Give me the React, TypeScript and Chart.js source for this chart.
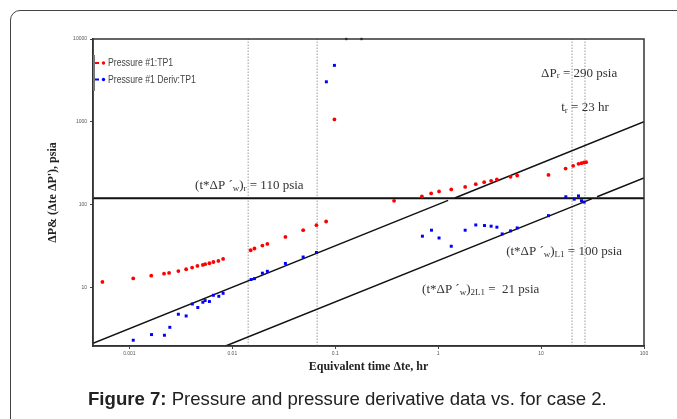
import React, { useEffect, useRef } from "react";
import { Chart, registerables } from "chart.js";

Chart.register(...registerables);

// ---- data ----
const pressureT = [0.000547, 0.00109, 0.00163, 0.00217, 0.00243, 0.00299, 0.00356, 0.00407, 0.00458, 0.00517, 0.00544, 0.00599, 0.00655, 0.00732, 0.00814, 0.01507, 0.0164, 0.0196, 0.0219, 0.0328, 0.0488, 0.0657, 0.0816, 0.0982, 0.373, 0.695, 0.855, 1.02, 1.34, 1.83, 2.32, 2.8, 3.27, 3.72, 5.05, 5.86, 11.8, 17.3, 20.5, 23.1, 24.7, 26.2, 27.4];
const pressureDP = [11.6, 12.8, 13.8, 14.6, 14.9, 15.7, 16.5, 17.3, 18.1, 18.6, 19.0, 19.5, 20.2, 20.8, 22.0, 28.0, 29.4, 31.9, 33.4, 40.6, 48.9, 56.2, 62.3, 1067, 110.7, 125, 136, 144, 152, 163, 176, 186, 193, 201, 216, 224, 228, 272, 293, 310, 316, 322, 325];

const derivT = [0.00109, 0.00164, 0.00219, 0.00247, 0.00299, 0.00356, 0.00409, 0.00462, 0.00517, 0.00544, 0.00599, 0.00655, 0.00739, 0.00814, 0.01524, 0.0164, 0.0196, 0.0219, 0.0328, 0.0488, 0.0657, 0.082, 0.0982, 0.703, 0.861, 1.02, 1.34, 1.83, 2.32, 2.82, 3.27, 3.72, 4.19, 5.05, 5.86, 11.8, 17.4, 21.0, 23.1, 24.7, 26.2];
const derivDP = [2.29, 2.68, 2.63, 3.28, 4.72, 4.5, 6.28, 5.69, 6.59, 6.91, 6.72, 8.0, 7.78, 8.45, 12.4, 12.7, 14.8, 15.6, 19.4, 23.2, 26.3, 3040, 4800, 41.4, 48.9, 39.4, 31.3, 48.9, 56.6, 55.7, 54.7, 53.2, 44.1, 48.0, 52.1, 73.3, 124, 116, 127, 111, 107];

const offscaleT = [0.128, 0.18];
const offscaleDP = [10000, 10000];

// straight-line fits (half-slope lines and radial level)
const upperLineT = [0.000443, 1.25, null, 1.45, 100];
const upperLineDP = [2.1, 112, null, 120, 1000];
const lowerLineT = [0.0086, 31, null, 35, 100];
const lowerLineDP = [1.95, 117, null, 124, 210];
const radialLevelDP = 119;
const markerTimes = [0.01425, 0.0667, 20.0, 26.7];

const xMin = 0.000443;
const xMax = 100;
const yMin = 1.95;
const yMax = 10000;

const xTickValues = [0.001, 0.01, 0.1, 1, 10, 100];
const xTickLabels = ["0.001", "0.01", "0.1", "1", "10", "100"];
const yTickValues = [10, 100, 1000, 10000];
const yTickLabels = ["10", "100", "1000", "10000"];

const legendLabels = ["Pressure #1:TP1", "Pressure #1 Deriv:TP1"];
const legendColors = ["#ff0000", "#0000ff"];

const SERIF = '"Liberation Serif", "Times New Roman", serif';

type Seg = [string, boolean];
const annotations: { t: number; p: number; segs: Seg[] }[] = [
  { t: 0.00435, p: 171, segs: [["(t*ΔP ´", false], ["w", true], [")", false], ["r", true], [" = 110 psia", false]] },
  { t: 10, p: 3870, segs: [["ΔP", false], ["r", true], [" = 290 psia", false]] },
  { t: 15.7, p: 1500, segs: [["t", false], ["r", true], [" = 23 hr", false]] },
  { t: 4.58, p: 27.2, segs: [["(t*ΔP ´", false], ["w", true], [")", false], ["L1", true], [" = 100 psia", false]] },
  { t: 0.698, p: 9.46, segs: [["(t*ΔP ´", false], ["w", true], [")", false], ["2L1", true], [" =  21 psia", false]] },
];

function pts(xs: (number | null)[], ys: (number | null)[]) {
  return xs.map((x, i) => ({ x: x as any, y: ys[i] as any }));
}

const overlayPlugin = {
  id: "overlay",
  afterDatasetsDraw(chart: any) {
    const { ctx, chartArea, scales } = chart;
    const { left, top, right, bottom } = chartArea;
    ctx.save();
    // plot frame
    ctx.strokeStyle = "#333";
    ctx.lineWidth = 1.5;
    ctx.strokeRect(left, top, right - left, bottom - top);

    // annotations
    ctx.fillStyle = "#333";
    ctx.textBaseline = "middle";
    ctx.textAlign = "left";
    for (const a of annotations) {
      let cx = scales.x.getPixelForValue(a.t);
      const cy = scales.y.getPixelForValue(a.p);
      for (const [txt, sub] of a.segs) {
        const size = sub ? 9 : 13;
        ctx.font = `${size}px ${SERIF}`;
        ctx.fillText(txt, cx, sub ? cy + 3 : cy);
        cx += ctx.measureText(txt).width;
      }
    }

    // legend (condensed sans text)
    ctx.font = '11px "Liberation Sans", Arial, sans-serif';
    legendLabels.forEach((lab, i) => {
      const y = top + 24 + i * 16.5;
      ctx.strokeStyle = legendColors[i];
      ctx.lineWidth = 2;
      ctx.beginPath();
      ctx.moveTo(left + 1, y);
      ctx.lineTo(left + 6, y);
      ctx.stroke();
      ctx.fillStyle = legendColors[i];
      ctx.beginPath();
      ctx.arc(left + 10.5, y, 1.7, 0, Math.PI * 2);
      ctx.fill();
      ctx.fillStyle = "#444";
      ctx.save();
      ctx.translate(left + 15, y);
      ctx.scale(0.79, 1);
      ctx.fillText(lab, 0, 0);
      ctx.restore();
    });
    ctx.strokeStyle = "#777";
    ctx.lineWidth = 2;
    ctx.beginPath();
    ctx.moveTo(left + 1, top + 16);
    ctx.lineTo(left + 1, top + 52);
    ctx.stroke();
    ctx.restore();
  },
};

export default function App() {
  const ref = useRef<HTMLCanvasElement | null>(null);

  useEffect(() => {
    if (!ref.current) return;
    const lineStyle = {
      showLine: true,
      pointRadius: 0,
      borderColor: "#111",
      borderWidth: 1.5,
      spanGaps: false,
      order: 5,
    };
    const datasets: any[] = [
      {
        label: legendLabels[0],
        data: pts(pressureT, pressureDP),
        backgroundColor: "#ff0000",
        borderColor: "#ff0000",
        pointRadius: 1.9,
        pointStyle: "circle",
        borderWidth: 0,
        order: 1,
      },
      {
        label: legendLabels[1],
        data: pts(derivT, derivDP),
        backgroundColor: "#0000ff",
        borderColor: "#0000ff",
        pointRadius: 2.1,
        pointStyle: "rect",
        borderWidth: 0,
        order: 1,
      },
      {
        label: "offscale",
        data: pts(offscaleT, offscaleDP),
        backgroundColor: "#000",
        borderColor: "#000",
        pointRadius: 1.6,
        pointStyle: "rect",
        borderWidth: 0,
        clip: false,
        order: 1,
      },
      { label: "upper", data: pts(upperLineT, upperLineDP), ...lineStyle },
      { label: "lower", data: pts(lowerLineT, lowerLineDP), ...lineStyle },
      { label: "radial", data: pts([xMin, xMax], [radialLevelDP, radialLevelDP]), ...lineStyle, borderWidth: 1.8 },
      ...markerTimes.map((t) => ({
        label: "marker",
        data: pts([t, t], [yMin, yMax]),
        showLine: true,
        pointRadius: 0,
        borderColor: "#9a9a9a",
        borderWidth: 1,
        borderDash: [1.5, 1.5],
        order: 6,
      })),
    ];

    const tickFont = { family: '"Liberation Sans", Arial, sans-serif', size: 5 };
    const chart = new Chart(ref.current, {
      type: "scatter",
      data: { datasets },
      options: {
        animation: false,
        responsive: false,
        events: [],
        layout: { padding: { left: 0, top: 39, right: 33, bottom: 43 } },
        plugins: { legend: { display: false }, tooltip: { enabled: false } },
        scales: {
          x: {
            type: "logarithmic",
            min: xMin,
            max: xMax,
            afterBuildTicks: (axis: any) => {
              axis.ticks = xTickValues.map((v) => ({ value: v }));
            },
            afterFit: (s: any) => {
              s.height = 30;
            },
            ticks: {
              autoSkip: false,
              maxRotation: 0,
              padding: 2,
              color: "#555",
              font: tickFont,
              callback: (_v: any, i: number) => xTickLabels[i],
            },
            grid: { drawOnChartArea: false, drawTicks: true, tickLength: 3, color: "#444" },
            border: { display: true, color: "#333", width: 1.5 },
            title: {
              display: true,
              text: "Equivalent time Δte, hr",
              color: "#222",
              font: { family: SERIF, size: 12, weight: "bold" },
              padding: { top: 0, bottom: 2 },
            },
          },
          y: {
            type: "logarithmic",
            min: yMin,
            max: yMax,
            afterBuildTicks: (axis: any) => {
              axis.ticks = yTickValues.map((v) => ({ value: v }));
            },
            afterFit: (s: any) => {
              s.width = 93;
            },
            ticks: {
              autoSkip: false,
              padding: 3,
              color: "#555",
              font: tickFont,
              callback: (_v: any, i: number) => yTickLabels[i],
            },
            grid: { drawOnChartArea: false, drawTicks: true, tickLength: 3, color: "#444" },
            border: { display: true, color: "#333", width: 1.5 },
            title: {
              display: true,
              text: "ΔP& (Δte ΔP'), psia",
              color: "#222",
              font: { family: SERIF, size: 12, weight: "bold" },
              padding: { top: 46, bottom: 0 },
            },
          },
        },
      } as any,
      plugins: [overlayPlugin],
    });
    return () => chart.destroy();
  }, []);

  return (
    <div style={{ position: "absolute", left: 0, top: 0, width: 677, height: 419, overflow: "hidden", background: "#fff" }}>
      <div
        style={{
          position: "absolute",
          left: 10,
          top: 10,
          width: 720,
          height: 460,
          border: "1px solid #444",
          borderRadius: 10,
          boxSizing: "border-box",
        }}
      />
      <canvas ref={ref} width={677} height={419} style={{ position: "absolute", left: 0, top: 0, width: 677, height: 419 }} />
      <div
        style={{
          position: "absolute",
          left: 88,
          top: 388,
          fontFamily: '"Liberation Sans", Arial, sans-serif',
          fontSize: 18.6,
          color: "#222",
          whiteSpace: "nowrap",
          lineHeight: "22px",
        }}
      >
        <b>Figure 7:</b> Pressure and pressure derivative data vs. for case 2.
      </div>
    </div>
  );
}
